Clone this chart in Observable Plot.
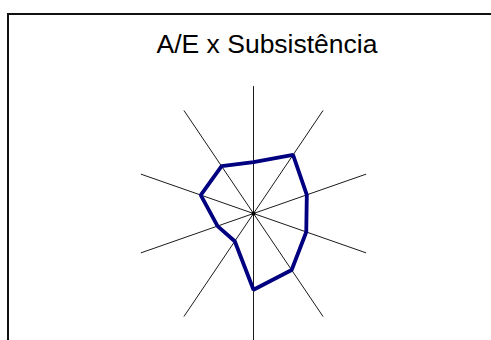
<!DOCTYPE html>
<html>
<head>
<meta charset="utf-8">
<script src="https://cdn.jsdelivr.net/npm/d3@7"></script>
<script src="https://cdn.jsdelivr.net/npm/@observablehq/plot@0.6"></script>
<style>
  html, body { margin: 0; padding: 0; background: #fff; overflow: hidden; }
  #wrap { position: relative; width: 491px; height: 340px; }
  #frame { position: absolute; left: 7px; top: 13px; width: 600px; height: 400px;
           border-top: 2px solid #111; border-left: 2px solid #111; }
  #chart { position: absolute; left: 0; top: 0; }
</style>
</head>
<body>
<div id="wrap"><div id="frame"></div><div id="chart"></div></div>
<script>
const title = "A/E x Subsistência";
// 10 axes, clockwise from top
const axes = ["1", "2", "3", "4", "5", "6", "7", "8", "9", "10"];
const values = [0.405, 0.57, 0.475, 0.47, 0.55, 0.60, 0.27, 0.32, 0.47, 0.46];
const axisMax = 1;

const n = axes.length;
const ang = i => (2 * Math.PI * i) / n;
const spokes = axes.flatMap((a, i) => [
  {axis: a, x: 0, y: 0},
  {axis: a, x: axisMax * Math.sin(ang(i)), y: axisMax * Math.cos(ang(i))}
]);
const poly = values.map((v, i) => ({axis: axes[i], x: v * Math.sin(ang(i)), y: v * Math.cos(ang(i))}));
poly.push(poly[0]);

const chart = Plot.plot({
  width: 491,
  height: 340,
  margin: 0,
  style: {background: "transparent", fontFamily: "Liberation Sans, Arial, sans-serif"},
  x: {domain: [-1, 1], range: [135, 371], axis: null},
  y: {domain: [-1, 1], range: [340, 86], axis: null},
  marks: [
    Plot.line(spokes, {x: "x", y: "y", z: "axis", stroke: "#000", strokeWidth: 0.9}),
    Plot.dot([{x: 0, y: 0}], {x: "x", y: "y", r: 2, fill: "#000"}),
    Plot.line(poly, {x: "x", y: "y", stroke: "#000080", strokeWidth: 3.8, strokeLinejoin: "miter"}),
    Plot.text([title], {frameAnchor: "top", dx: 21, dy: 52, text: d => d, fontSize: 26.5, fill: "#000", lineAnchor: "bottom"})
  ]
});
document.getElementById("chart").appendChild(chart);
</script>
</body>
</html>
